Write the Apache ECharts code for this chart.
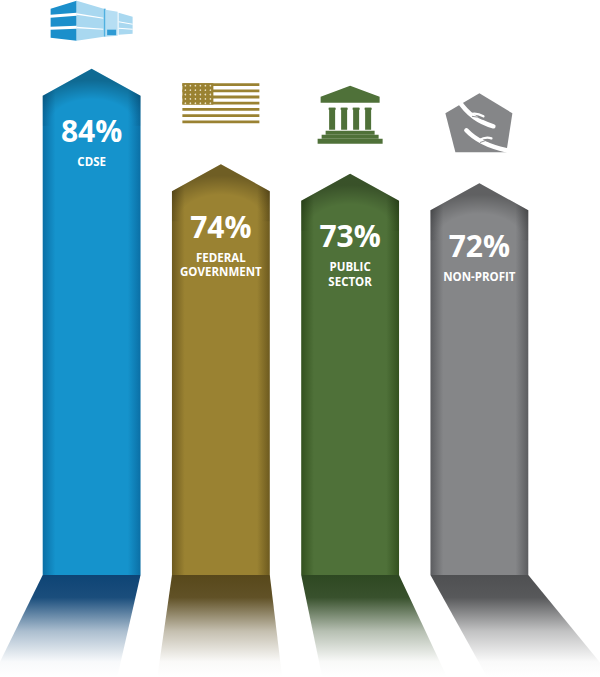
<!DOCTYPE html>
<html>
<head>
<meta charset="utf-8">
<title>Arrow bars</title>
<script src="https://cdn.jsdelivr.net/npm/echarts@6/dist/echarts.min.js"></script>
<style>html,body{margin:0;padding:0;background:#fff;}</style>
</head>
<body>
<div id="main" style="width:600px;height:677px;"></div>
<script>
var categories = ['CDSE', 'FEDERAL\nGOVERNMENT', 'PUBLIC\nSECTOR', 'NON-PROFIT'];
var values = [84, 74, 73, 72];
var barColors = ['#1593cc', '#9a8232', '#4f7139', '#858688'];
var edgeColors = ['#0b6fa5', '#6d5a1f', '#33511f', '#5b5c5f'];
var floorColors = ['#0e4475', '#58481b', '#2e4822', '#4f5052'];
var icons = ['building', 'flag', 'temple', 'hands'];

var yMin = 31, yMax = 87;

function rgba(hex, a) {
    var n = parseInt(hex.slice(1), 16);
    return 'rgba(' + (n >> 16) + ',' + ((n >> 8) & 255) + ',' + (n & 255) + ',' + a + ')';
}

function poly(pts, cx, by, fill) {
    return {
        type: 'polygon',
        shape: { points: pts.map(function (p) { return [cx + p[0], by + p[1]]; }) },
        style: { fill: fill }
    };
}
function box(x0, y0, x1, y1, cx, by, fill) {
    return { type: 'rect', shape: { x: cx + x0, y: by + y0, width: x1 - x0, height: y1 - y0 }, style: { fill: fill } };
}
function curve(x1, y1, qx, qy, x2, y2, cx, by, color, w) {
    return {
        type: 'bezierCurve',
        shape: { x1: cx + x1, y1: by + y1, cpx1: cx + qx, cpy1: by + qy, x2: cx + x2, y2: by + y2 },
        style: { stroke: color, lineWidth: w, lineCap: 'round', fill: 'none' }
    };
}

// icon shapes, drawn around (cx, bottom)
function iconShapes(name, cx, tipY) {
    var out = [], by;
    if (name === 'building') {
        by = tipY - 27;
        var dark = '#1b8fcb', light = '#a9d8f0';
        out.push(poly([[-41, -33], [-15, -41], [-15, -29], [-41, -27]], cx, by, dark));
        out.push(poly([[-41, -24], [-15, -26], [-15, -16], [-41, -15]], cx, by, dark));
        out.push(poly([[-41, -12], [-15, -13], [-15, -1], [-41, -4]], cx, by, dark));
        out.push(poly([[-15, -41], [12, -33], [12, -5], [-15, -1]], cx, by, light));
        out.push(poly([[-15, -28.5], [12, -24], [12, -23], [-15, -27]], cx, by, '#fff'));
        out.push(poly([[-15, -15], [12, -13], [12, -12], [-15, -13.5]], cx, by, '#fff'));
        out.push(box(12, -33, 14, -5, cx, by, '#4fb0e0'));
        out.push(poly([[14, -32], [26, -30], [26, -6], [14, -5]], cx, by, '#b6def3'));
        out.push(box(15.5, -12, 24.5, -6.5, cx, by, '#2f9bd4'));
        out.push(poly([[27, -29], [41, -25], [41, -8], [27, -7]], cx, by, light));
        out.push(poly([[27, -20.5], [41, -18], [41, -17], [27, -19.5]], cx, by, '#fff'));
        out.push(poly([[27, -14], [41, -13], [41, -12], [27, -13]], cx, by, '#fff'));
    } else if (name === 'flag') {
        by = tipY - 41;
        var gold = '#9a8232';
        for (var k = 0; k < 7; k++) {
            out.push(box(-38.5, -40 + k * 6.2, 38.5, -40 + k * 6.2 + 2.8, cx, by, gold));
        }
        out.push(box(-38.5, -40, -7.5, -18.6, cx, by, gold));
        for (var r = 0; r < 5; r++) {
            for (var c = 0; c < 6; c++) {
                out.push({ type: 'circle', shape: { cx: cx - 35.5 + c * 5, cy: by - 37.5 + r * 4.4, r: 0.8 }, style: { fill: '#e9e2c8' } });
            }
        }
    } else if (name === 'temple') {
        by = tipY - 30;
        var green = '#4f7139';
        out.push(poly([[0, -58], [29.5, -47], [29.5, -41], [-29.5, -41], [-29.5, -47]], cx, by, green));
        [-18, -6, 6, 18].forEach(function (x) {
            out.push(box(x - 3.5, -36, x + 3.5, -34, cx, by, green));
            out.push(box(x - 3, -36, x + 3, -14, cx, by, green));
        });
        out.push(box(-24.5, -13, 24.5, -9, cx, by, green));
        out.push(box(-28.5, -9, 28.5, -5, cx, by, green));
        out.push(box(-32.5, -5, 32.5, 0, cx, by, green));
    } else if (name === 'hands') {
        by = tipY - 31;
        var grey = '#858688';
        out.push(poly([[0, -59], [33, -39], [27, 0], [-24, 0], [-34, -39]], cx, by, grey));
        // upper hand, reaching in from the top left
        out.push(curve(-21, -52, -8, -32, 14, -26, cx, by, '#fff', 4.5));
        out.push(curve(-9, -38, -3, -40, 4, -36, cx, by, '#fff', 2.4));
        out.push(curve(-7, -36, -2, -36, 3, -33, cx, by, grey, 0.9));
        // lower hand, reaching in from the bottom right
        out.push(curve(-13, -22, 0, -8, 27, -2, cx, by, '#fff', 4.5));
        out.push(curve(0, -12, 6, -16, 12, -14, cx, by, '#fff', 2.4));
        out.push(curve(1, -10, 6, -13, 11, -11, cx, by, grey, 0.9));
    }
    return out;
}

function renderItem(params, api) {
    var i = params.dataIndex;
    var tip = api.coord([api.value(0), api.value(1)]);
    var base = api.coord([api.value(0), yMin]);
    var cx = tip[0], ty = tip[1], by = base[1];
    var hw = api.size([1, 0])[0] * 0.757 / 2;
    var l = cx - hw, r = cx + hw, sh = 27;
    var H = api.getHeight();
    var dy = H - by;
    var vx = 225, k = 0.0027;
    var col = barColors[i], edge = edgeColors[i], fl = floorColors[i];

    var children = [];
    // floor reflection
    children.push({
        type: 'polygon',
        shape: { points: [[l, by], [r, by], [r + (r - vx) * k * dy, H], [l + (l - vx) * k * dy, H]] },
        style: {
            fill: new echarts.graphic.LinearGradient(0, 0, 0, 1, [
                { offset: 0, color: rgba(fl, 1) },
                { offset: 0.22, color: rgba(fl, 0.95) },
                { offset: 0.55, color: rgba(fl, 0.35) },
                { offset: 0.85, color: rgba(fl, 0.03) },
                { offset: 1, color: rgba(fl, 0) }
            ])
        }
    });
    // arrow bar
    children.push({
        type: 'polygon',
        shape: { points: [[cx, ty], [r, ty + sh], [r, by], [l, by], [l, ty + sh]] },
        style: {
            fill: new echarts.graphic.LinearGradient(0, 0, 1, 0, [
                { offset: 0, color: edge },
                { offset: 0.13, color: col },
                { offset: 0.87, color: col },
                { offset: 1, color: edge }
            ])
        }
    });
    // shading under the arrow head
    children.push({
        type: 'polygon',
        shape: { points: [[cx, ty], [r, ty + sh], [r, ty + sh + 30], [l, ty + sh + 30], [l, ty + sh]] },
        style: {
            fill: new echarts.graphic.RadialGradient(0.5, 0.95, 0.75, [
                { offset: 0, color: 'rgba(0,0,0,0)' },
                { offset: 0.55, color: 'rgba(0,0,0,0)' },
                { offset: 1, color: 'rgba(0,0,0,0.28)' }
            ])
        }
    });
    children.push({
        type: 'text',
        style: {
            text: api.value(1) + '%', x: cx, y: ty + 62, align: 'center', verticalAlign: 'middle',
            fill: '#fff', fontSize: 30, fontWeight: 'bold', fontFamily: '"Open Sans", sans-serif'
        }
    });
    // one text per line so the lines keep the reference spacing
    categories[i].split('\n').forEach(function (line, j) {
        children.push({
            type: 'text',
            style: {
                text: line, x: cx, y: ty + 93 + j * 14.5, align: 'center', verticalAlign: 'middle',
                fill: '#fff', fontSize: 11.5, fontWeight: 'bold', fontFamily: '"Open Sans", sans-serif'
            }
        });
    });
    children = children.concat(iconShapes(icons[i], cx, ty));
    return { type: 'group', children: children };
}

var myChart = echarts.init(document.getElementById('main'), null, { renderer: 'svg' });

var option = {
    animation: false,
    backgroundColor: '#fff',
    grid: { left: 27, right: 56, top: 40, bottom: 102 },
    xAxis: { type: 'category', data: categories, show: false },
    yAxis: { type: 'value', min: yMin, max: yMax, show: false },
    series: [{
        type: 'custom',
        clip: false,
        renderItem: renderItem,
        encode: { x: 0, y: 1 },
        data: values.map(function (v, i) { return [i, v]; })
    }]
};
myChart.setOption(option);
</script>
</body>
</html>
